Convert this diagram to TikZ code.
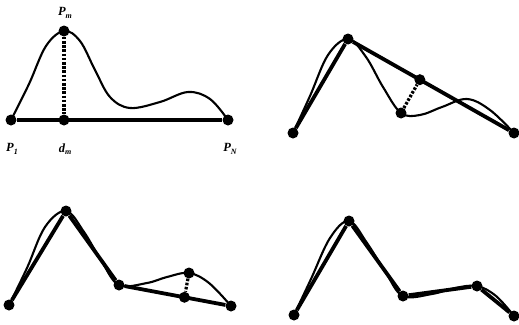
\documentclass[tikz,border=0pt]{standalone}
\usepackage{fontspec}
\setmainfont{Liberation Serif}
\usetikzlibrary{calc}
\newcommand{\sublbl}[2]{#1\raisebox{-0.45ex}{\fontsize{8}{8}\selectfont #2}}
\tikzset{
  dot/.style={circle,fill=black,inner sep=0pt,minimum size=11pt},
  chord/.style={line width=3.8pt},
  curve/.style={line width=2.1pt,line join=round},
  gap/.style={line width=3.2pt,dash pattern=on 2.6pt off 1.6pt},
  lbl/.style={font=\fontsize{12.5}{12.5}\selectfont\bfseries\itshape,inner sep=0pt}
}
\begin{document}
\begin{tikzpicture}[x=1pt,y=-1pt]
  \useasboundingbox (0,0) rectangle (519,324);
  % panel 1: first split
  \node[dot] (a1) at (11,120) {};
  \node[dot] (am) at (64,31) {};
  \node[dot] (ad) at (64,120) {};
  \node[dot] (an) at (228,120) {};
  \draw[curve] plot[smooth,tension=0.6] coordinates {(a1.center) (29,84) (46,46) (am.center) (80,41) (95,70) (110,97) (130,108) (160,102) (188,92) (210,99) (an.center)};
  \draw[chord] (a1) -- (an);
  \draw[gap] (am) -- (ad);
  \node[lbl] (lm) at (65,13) {\sublbl{P}{m}};
  \node[lbl] (l1) at (12,149) {\sublbl{P}{1}};
  \node[lbl] (ld) at (65,149) {\sublbl{d}{m}};
  \node[lbl] (ln) at (230,149) {\sublbl{P}{N}};
  % panel 2: second split
  \node[dot] (b1) at (293,133) {};
  \node[dot] (bm) at (348,39) {};
  \node[dot] (bv) at (401,113) {};
  \node[dot] (bn) at (514,133) {};
  \node[dot] (bl) at ($(bm)!(bv)!(bn)$) {};
  \draw[curve] plot[smooth,tension=0.6] coordinates {(b1.center) (310,96) (328,55) (bm.center) (366,57) (383,87) (bv.center) (420,115) (442,107) (467,99) (490,110) (bn.center)};
  \draw[chord] (b1) -- (bm);
  \draw[chord] (bm) -- (bn);
  \draw[gap] (bv) -- (bl);
  % panel 3: third split
  \node[dot] (c1) at (9,305) {};
  \node[dot] (cm) at (66,211) {};
  \node[dot] (cv) at (119,285) {};
  \node[dot] (cb) at (189,273) {};
  \node[dot] (cn) at (231,306) {};
  \node[dot] (cl) at ($(cv)!(cb)!(cn)$) {};
  \draw[curve] plot[smooth,tension=0.6] coordinates {(c1.center) (27,268) (45,227) (cm.center) (84,232) (102,262) (cv.center) (147,283) (167,277) (cb.center) (209,283) (cn.center)};
  \draw[chord] (c1) -- (cm);
  \draw[chord] (cm) -- (cv);
  \draw[chord] (cv) -- (cn);
  \draw[gap] (cb) -- (cl);
  % panel 4: result
  \node[dot] (d1) at (294,315) {};
  \node[dot] (dm) at (349,221) {};
  \node[dot] (dv) at (403,296) {};
  \node[dot] (dc) at (477,286) {};
  \node[dot] (dn) at (514,316) {};
  \draw[curve] plot[smooth,tension=0.6] coordinates {(d1.center) (311,279) (330,238) (dm.center) (367,243) (386,273) (dv.center) (432,294) (455,288) (dc.center) (496,296) (dn.center)};
  \draw[chord] (d1) -- (dm);
  \draw[chord] (dm) -- (dv);
  \draw[chord] (dv) -- (dc);
  \draw[chord] (dc) -- (dn);
\end{tikzpicture}
\end{document}
